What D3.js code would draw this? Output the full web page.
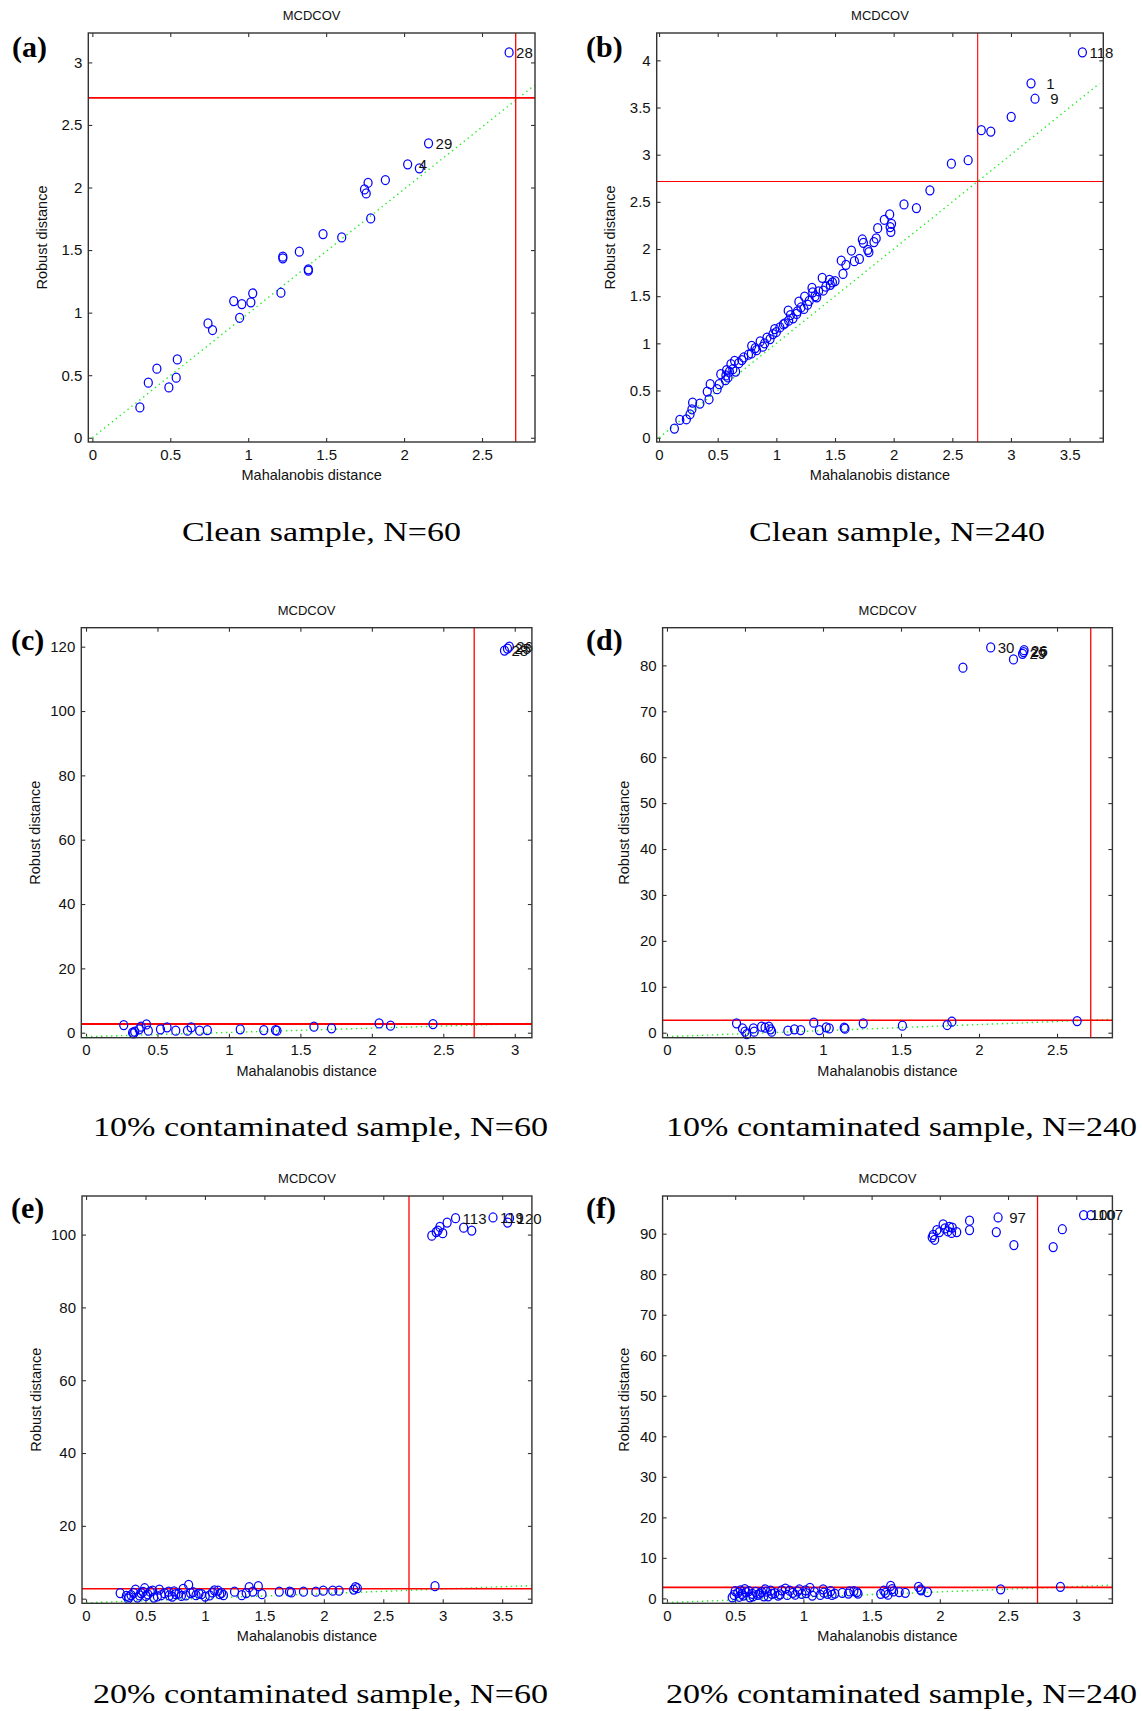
<!DOCTYPE html>
<html>
<head>
<meta charset="utf-8">
<script src="https://d3js.org/d3.v7.min.js"></script>
<style>
body { margin: 0; background: #fff; }
svg text { font-family: "Liberation Sans", Arial, sans-serif; fill: #111; }
.axis text { font-size: 15px; fill: #111; }
.axis line { stroke: #333; stroke-width: 1.1; }
.frame { fill: none; stroke: #333; stroke-width: 1.4; }
.cut { stroke: #ff0000; stroke-width: 1.7; }
.diag { stroke: #22ee22; stroke-width: 1.4; stroke-dasharray: 1.4,3.6; fill: none; }
.pt { fill: none; stroke: #0000ff; stroke-width: 1.25; }
.num { font-size: 15px; white-space: pre; }
.title { font-size: 13px; }
.lab { font-size: 14.5px; }
.caption { font-family: "Liberation Serif", "Times New Roman", serif; font-size: 27px; fill: #000; }
.tag { font-family: "Liberation Serif", "Times New Roman", serif; font-weight: bold; font-size: 30px; fill: #000; }
</style>
</head>
<body>
<svg id="fig" width="1142" height="1711"></svg>
<script>

// cut-off sqrt(chi2 0.975, 2 dof), same in every panel
var cutoff = 2.7162;

// ---- (a) clean sample, N=60
var aX = [2.674,2.157,2.098,2.023,1.880,1.769,1.746,1.757,1.786,1.600,1.480,1.328,1.222,1.222,1.386,1.386,1.210,1.029,1.017,0.907,0.959,0.945,0.742,0.771,0.545,0.414,0.359,0.538,0.491,0.305];
var aY = [3.080,2.353,2.153,2.185,2.060,2.038,1.985,1.953,1.753,1.601,1.628,1.487,1.447,1.434,1.346,1.335,1.159,1.154,1.082,1.092,1.068,0.959,0.914,0.861,0.626,0.552,0.440,0.480,0.402,0.242];
var aTagAt = [0, 1, 3];
var aTags = ["28", "29", " 4"];
var aXLim = [-0.026, 2.84], aYLim = [-0.034, 3.235];
var aXTicks = [0, 0.5, 1, 1.5, 2, 2.5], aYTicks = [0, 0.5, 1, 1.5, 2, 2.5, 3];
var aDiag = [[0, 0], [2.838, 2.819]];

// ---- (b) clean sample, N=240
var bX = [3.609,3.171,3.205,3.002,2.747,2.828,2.635,2.492,2.309,2.088,2.194,1.966,1.920,1.982,1.970,1.976,1.864,1.851,1.832,1.733,1.742,1.779,1.789,1.640,1.708,1.665,1.553,1.593,1.568,1.478,1.453,1.391,1.422,1.360,1.304,1.310,1.344,1.241,1.192,1.266,1.235,1.173,1.142,1.101,1.105,1.073,1.030,0.986,0.971,0.946,0.862,0.884,0.831,0.790,0.787,0.762,0.722,0.706,0.644,0.613,0.629,0.653,0.588,0.566,0.576,0.526,0.513,0.495,0.436,0.411,0.426,0.348,0.286,0.280,0.264,0.233,0.177,0.131,1.12,1.18,1.21,1.28,1.33,1.40,1.46,1.50,0.92,1.00,0.60,0.68,0.82,0.57,0.90,1.06];
var bY = [4.085,3.756,3.593,3.401,3.260,3.245,2.941,2.905,2.622,2.473,2.434,2.367,2.310,2.267,2.232,2.182,2.221,2.112,2.073,2.101,2.066,1.991,1.966,1.984,1.895,1.871,1.878,1.832,1.736,1.647,1.672,1.694,1.601,1.552,1.587,1.541,1.488,1.495,1.442,1.410,1.364,1.311,1.265,1.346,1.240,1.212,1.169,1.151,1.098,1.045,1.020,0.964,0.928,0.974,0.893,0.879,0.850,0.822,0.815,0.779,0.726,0.701,0.638,0.609,0.716,0.673,0.567,0.514,0.567,0.489,0.407,0.361,0.372,0.301,0.248,0.195,0.188,0.096,1.30,1.34,1.38,1.45,1.50,1.56,1.62,1.66,1.06,1.12,0.70,0.79,0.95,0.66,1.00,1.20];
var bTagAt = [0, 1, 2];
var bTags = ["118", "  1", "  9"];
var bXLim = [-0.02, 3.787], bYLim = [-0.046, 4.29];
var bXTicks = [0, 0.5, 1, 1.5, 2, 2.5, 3, 3.5], bYTicks = [0, 0.5, 1, 1.5, 2, 2.5, 3, 3.5, 4];
var bDiag = [[0, 0], [3.755, 3.755]];

// ---- (c) 10% contaminated, N=60
var cX = [2.928,2.949,2.962,0.264,0.326,0.341,0.333,0.372,0.385,0.423,0.436,0.521,0.567,0.628,0.710,0.736,0.795,0.849,1.079,1.244,1.326,1.336,1.595,1.718,2.051,2.131,2.428];
var cY = [118.8,119.4,120.0,2.38,0.00,0.31,-0.20,1.04,1.87,2.59,0.62,1.04,1.66,0.62,0.62,1.66,0.62,0.83,1.04,0.83,0.83,0.62,1.87,1.35,2.90,2.18,2.69];
var cTagAt = [0, 1, 2];
var cTags = ["28", "25", "26"];
var cXLim = [-0.033, 3.12], cYLim = [-1.55, 125.9];
var cXTicks = [0, 0.5, 1, 1.5, 2, 2.5, 3], cYTicks = [0, 20, 40, 60, 80, 100, 120];
var cDiag = [[0, -1.24], [3.12, 2.9]];

// ---- (d) 10% contaminated, N=240
var dX = [2.075,1.897,2.221,2.279,2.289,2.286,0.446,0.484,0.500,0.512,0.554,0.559,0.606,0.629,0.653,0.664,0.671,0.775,0.817,0.857,0.941,0.977,1.021,1.040,1.136,1.141,1.258,1.509,1.796,1.826,2.629];
var dY = [83.9,79.5,81.3,82.5,83.3,82.9,2.03,0.94,0.22,-0.30,0.94,0.22,1.31,1.09,1.31,0.73,0.22,0.44,0.73,0.58,2.18,0.58,1.16,0.94,1.09,0.87,2.03,1.52,1.67,2.40,2.54];
var dTagAt = [0, 3, 4, 5];
var dTags = ["30", "29", "26", "25"];
var dXLim = [-0.028, 2.855], dYLim = [-1.09, 88.2];
var dXTicks = [0, 0.5, 1, 1.5, 2, 2.5], dYTicks = [0, 10, 20, 30, 40, 50, 60, 70, 80];
var dDiag = [[0, -0.87], [2.855, 2.9]];

// ---- (e) 20% contaminated, N=60
var eX = [2.908,2.945,2.960,2.976,3.000,3.037,3.108,3.176,3.244,3.423,3.546,3.562,
  0.287,0.339,0.355,0.379,0.416,0.432,0.463,0.493,0.503,0.540,0.570,0.617,0.632,0.694,0.725,0.755,0.802,0.817,0.863,0.879,0.925,0.971,1.002,1.064,1.110,1.125,1.156,1.249,1.310,1.347,1.372,1.403,1.449,1.480,1.625,1.711,1.727,1.829,1.933,1.995,2.075,2.128,2.251,2.266,2.282,2.935,
  0.36,0.40,0.45,0.48,0.52,0.56,0.60,0.66,0.70,0.74,0.78,0.84,0.90,0.95,1.04,1.08,1.14];
var eY = [99.7,100.7,101.1,102.1,100.4,103.3,104.5,101.9,101.1,104.7,103.3,104.5,
  1.53,0.76,0.00,0.96,2.49,0.29,1.53,2.87,0.76,1.91,0.29,2.49,0.96,1.91,0.57,1.24,0.76,2.68,3.82,1.53,0.96,1.24,0.57,1.72,2.20,1.24,0.96,1.91,0.96,1.53,3.15,1.91,3.44,1.24,1.91,1.91,1.72,1.91,1.91,2.20,2.20,2.20,2.49,3.15,2.87,3.44,
  0.5,1.6,0.9,1.9,1.2,2.2,0.6,1.5,0.9,2.0,1.4,0.9,1.8,1.4,0.9,2.3,1.6];
var eTagAt = [6, 9, 11];
var eTags = ["113", "119", "120"];
var eXLim = [-0.034, 3.75], eYLim = [-1.27, 110.6];
var eXTicks = [0, 0.5, 1, 1.5, 2, 2.5, 3, 3.5], eYTicks = [0, 20, 40, 60, 80, 100];
var eDiag = [[0, -1.15], [3.75, 3.6]];

// ---- (f) 20% contaminated, N=240
var fX = [1.944,1.962,1.952,1.978,1.997,2.024,2.038,2.059,2.070,2.091,2.086,2.124,2.218,2.218,2.427,2.414,2.543,2.831,2.898,3.054,3.108,
  0.478,0.492,0.519,0.538,0.559,0.581,0.608,0.626,0.667,0.694,0.720,0.742,0.769,0.815,0.841,0.868,0.882,0.922,0.957,0.989,1.016,1.048,1.065,1.124,1.145,1.177,1.210,1.285,1.339,1.392,1.567,1.602,1.640,1.661,1.702,1.747,1.844,1.863,1.909,2.446,2.884,
  0.50,0.53,0.55,0.57,0.60,0.63,0.65,0.68,0.71,0.73,0.76,0.79,0.83,0.90,0.94,0.97,1.02,1.08,1.15,1.20,1.23,1.33,1.37,1.40,1.59,1.62,1.65,1.86];
var fY = [89.1,88.5,89.7,90.9,90.4,92.3,91.3,90.6,91.7,91.5,90.2,90.4,93.2,90.9,94.0,90.4,87.2,86.7,91.1,94.6,94.6,
  0.26,0.86,1.38,1.98,0.69,1.55,0.26,1.12,0.86,1.55,2.24,0.52,1.12,0.69,1.98,2.42,0.86,1.38,1.73,1.12,1.98,2.59,0.69,0.86,2.24,1.12,0.86,1.38,1.73,1.55,1.12,1.38,3.11,1.73,1.55,1.38,2.85,1.98,1.55,2.24,2.85,
  1.8,0.4,1.1,2.3,1.8,0.5,1.6,1.2,0.5,1.7,1.9,1.3,1.0,1.9,0.9,2.2,1.3,1.6,1.4,1.8,1.2,1.2,1.8,1.2,1.9,0.9,2.3,2.2];
var fTagAt = [14, 19, 20];
var fTags = [" 97", "100", "107"];
var fXLim = [-0.032, 3.265], fYLim = [-1.21, 99.3];
var fXTicks = [0, 0.5, 1, 1.5, 2, 2.5, 3], fYTicks = [0, 10, 20, 30, 40, 50, 60, 70, 80, 90];
var fDiag = [[0, -1.04], [3.265, 3.28]];

var captions = ["Clean sample, N=60", "Clean sample, N=240",
                "10% contaminated sample, N=60", "10% contaminated sample, N=240",
                "20% contaminated sample, N=60", "20% contaminated sample, N=240"];
var tags = ["(a)", "(b)", "(c)", "(d)", "(e)", "(f)"];

var svg = d3.select("#fig");

// layout of the six axes boxes (pixel frames)
var panels = [
  {x: aX, y: aY, at: aTagAt, tags: aTags, xlim: aXLim, ylim: aYLim, xt: aXTicks, yt: aYTicks, diag: aDiag,
   left: 88.3, top: 33, right: 535, bottom: 442, tagX: 12, tagY: 57, capX: 182, capY: 541, capW: 279, cutW: 1.8},
  {x: bX, y: bY, at: bTagAt, tags: bTags, xlim: bXLim, ylim: bYLim, xt: bXTicks, yt: bYTicks, diag: bDiag,
   left: 656.7, top: 33, right: 1103.3, bottom: 442, tagX: 586, tagY: 57, capX: 749, capY: 541, capW: 296, cutW: 1.1},
  {x: cX, y: cY, at: cTagAt, tags: cTags, xlim: cXLim, ylim: cYLim, xt: cXTicks, yt: cYTicks, diag: cDiag,
   left: 81.3, top: 627.7, right: 531.9, bottom: 1037.7, tagX: 11, tagY: 650, capX: 93, capY: 1136, capW: 455, cutW: 1.8},
  {x: dX, y: dY, at: dTagAt, tags: dTags, xlim: dXLim, ylim: dYLim, xt: dXTicks, yt: dYTicks, diag: dDiag,
   left: 662.6, top: 627.7, right: 1112.4, bottom: 1037.7, tagX: 586, tagY: 650, capX: 666, capY: 1136, capW: 471, cutW: 1.6},
  {x: eX, y: eY, at: eTagAt, tags: eTags, xlim: eXLim, ylim: eYLim, xt: eXTicks, yt: eYTicks, diag: eDiag,
   left: 82, top: 1196, right: 531.9, bottom: 1603.3, tagX: 11, tagY: 1218, capX: 93, capY: 1703, capW: 455, cutW: 1.6},
  {x: fX, y: fY, at: fTagAt, tags: fTags, xlim: fXLim, ylim: fYLim, xt: fXTicks, yt: fYTicks, diag: fDiag,
   left: 662.6, top: 1196, right: 1112.4, bottom: 1603.3, tagX: 586, tagY: 1218, capX: 666, capY: 1703, capW: 471, cutW: 1.6}
];

panels.forEach(function(p, i) {
  var w = p.right - p.left, h = p.bottom - p.top;
  var x = d3.scaleLinear().domain(p.xlim).range([0, w]);
  var y = d3.scaleLinear().domain(p.ylim).range([h, 0]);
  var fmt = d3.format("~g");

  var g = svg.append("g").attr("transform", "translate(" + p.left + "," + p.top + ")");

  // matlab style: inward ticks on all four sides
  g.append("g").attr("class", "axis").attr("transform", "translate(0," + h + ")")
    .call(d3.axisBottom(x).tickValues(p.xt).tickFormat(fmt).tickSizeInner(-4).tickSizeOuter(0).tickPadding(7));
  g.append("g").attr("class", "axis")
    .call(d3.axisTop(x).tickValues(p.xt).tickFormat("").tickSizeInner(-4).tickSizeOuter(0));
  g.append("g").attr("class", "axis")
    .call(d3.axisLeft(y).tickValues(p.yt).tickFormat(fmt).tickSizeInner(-4).tickSizeOuter(0).tickPadding(6));
  g.append("g").attr("class", "axis").attr("transform", "translate(" + w + ",0)")
    .call(d3.axisRight(y).tickValues(p.yt).tickFormat("").tickSizeInner(-4).tickSizeOuter(0));
  g.selectAll(".domain").remove();
  g.selectAll(".axis text").attr("font-family", null).attr("font-size", null);

  // dotted reference line
  g.append("line").attr("class", "diag")
    .attr("x1", x(p.diag[0][0])).attr("y1", y(p.diag[0][1]))
    .attr("x2", x(p.diag[1][0])).attr("y2", y(p.diag[1][1]));

  // cut-off lines
  g.append("line").attr("class", "cut").style("stroke-width", p.cutW)
    .attr("x1", 0).attr("x2", w).attr("y1", y(cutoff)).attr("y2", y(cutoff));
  g.append("line").attr("class", "cut").style("stroke-width", Math.min(p.cutW, 1.3))
    .attr("x1", x(cutoff)).attr("x2", x(cutoff)).attr("y1", 0).attr("y2", h);

  var pts = p.x.map(function(d, k) { return [d, p.y[k]]; });
  g.selectAll("ellipse.pt").data(pts).enter().append("ellipse")
    .attr("class", "pt")
    .attr("cx", function(d) { return x(d[0]); })
    .attr("cy", function(d) { return y(d[1]); })
    .attr("rx", 4.0).attr("ry", 4.5);

  g.selectAll("text.num").data(p.at).enter().append("text")
    .attr("class", "num")
    .attr("x", function(k) { return x(p.x[k]) + 7; })
    .attr("y", function(k) { return y(p.y[k]); })
    .attr("dy", "0.36em")
    .text(function(k, j) { return p.tags[j]; });

  g.append("rect").attr("class", "frame").attr("width", w).attr("height", h);

  // title and axis labels
  g.append("text").attr("class", "title").attr("x", w / 2).attr("y", -13)
    .attr("text-anchor", "middle").text("MCDCOV");
  g.append("text").attr("class", "lab").attr("x", w / 2).attr("y", h + 38)
    .attr("text-anchor", "middle").text("Mahalanobis distance");
  var tw = d3.max(p.yt, function(t) { return fmt(t).length; });
  g.append("text").attr("class", "lab")
    .attr("transform", "translate(" + (-(tw * 7.8 + 18)) + "," + (h / 2) + ") rotate(-90)")
    .attr("text-anchor", "middle").text("Robust distance");

  svg.append("text").attr("class", "tag").attr("x", p.tagX).attr("y", p.tagY).text(tags[i]);
  svg.append("text").attr("class", "caption").attr("x", p.capX).attr("y", p.capY)
    .attr("textLength", p.capW).attr("lengthAdjust", "spacingAndGlyphs").text(captions[i]);
});

</script>
</body>
</html>
